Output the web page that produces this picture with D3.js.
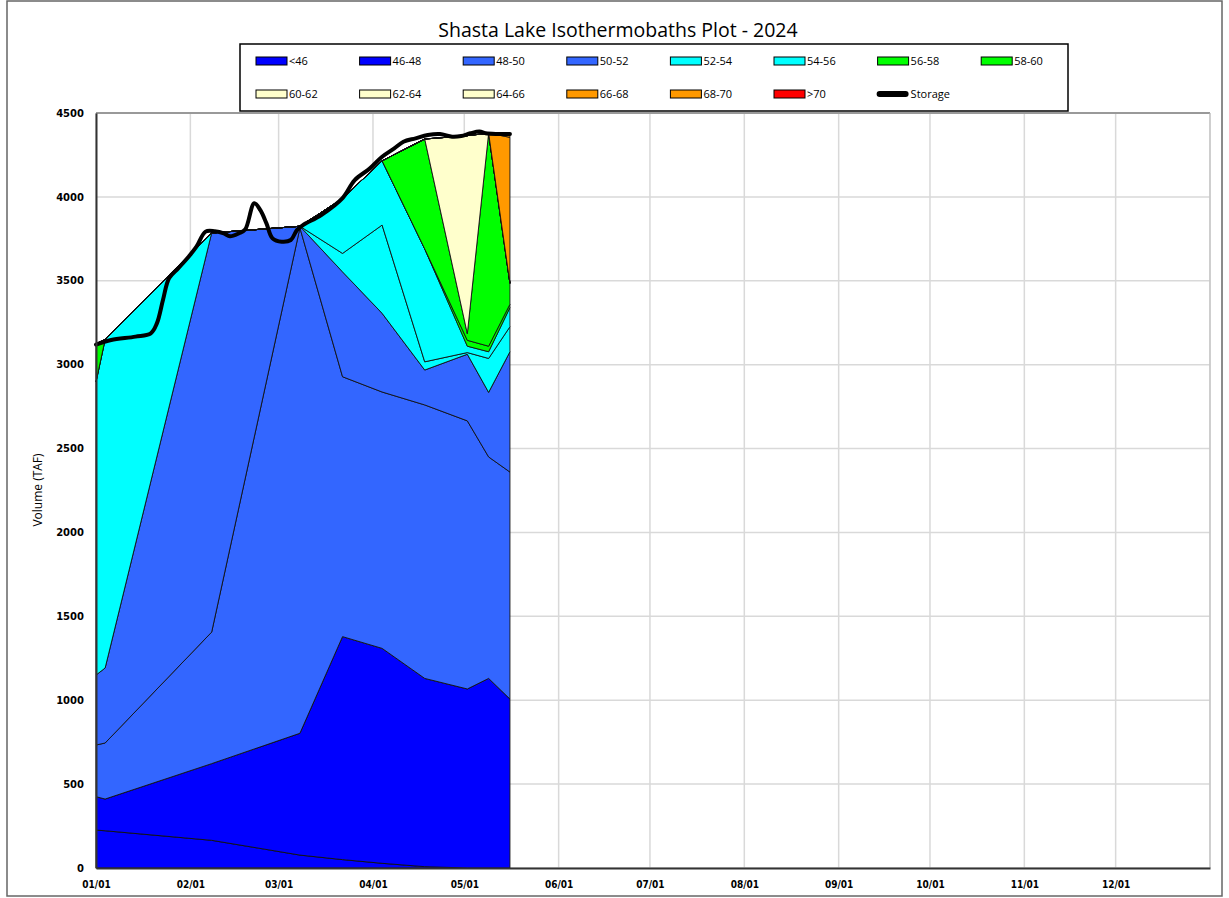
<!DOCTYPE html>
<html>
<head>
<meta charset="utf-8">
<script src="https://cdn.jsdelivr.net/npm/d3@7/dist/d3.min.js"></script>
<style>
  body { margin: 0; background: #fff; }
  svg { display: block; }
</style>
</head>
<body>
<svg id="chart" width="1229" height="898"></svg>
<script>
// profile dates (temperature profiles)
const profileDates = ["2024-01-01", "2024-01-04", "2024-02-08", "2024-03-08", "2024-03-22",
                      "2024-04-04", "2024-04-18", "2024-05-02", "2024-05-09", "2024-05-16"];

// volume (TAF) in each temperature band, per profile date
const band_lt46  = [226, 222, 165, 77, 50, 28, 8, 0, 0, 0];
const band_46_48 = [199, 189, 457, 726, 1329, 1281, 1122, 1067, 1130, 1007];
const band_48_50 = [308, 334, 784, 3012, 1549, 1528, 1630, 1598, 1320, 1353];
const band_50_52 = [417, 447, 2379, 10, 625, 469, 208, 397, 385, 717];
const band_52_54 = [1747, 1958, 0, 0, 110, 526, 49, 10, 202, 149];
const band_54_56 = [0, 0, 0, 0, 327, 383, 673, 38, 40, 114];
const band_56_58 = [225, 0, 0, 0, 0, 0, 0, 35, 33, 20];
const band_58_60 = [0, 0, 0, 0, 0, 0, 655, 40, 1270, 125];
const band_60_62 = [0, 0, 0, 0, 0, 0, 0, 1180, 0, 0];
const band_62_64 = [0, 0, 0, 0, 0, 0, 0, 0, 0, 0];
const band_64_66 = [0, 0, 0, 0, 0, 0, 0, 0, 0, 0];
const band_66_68 = [0, 0, 0, 0, 0, 0, 0, 0, 0, 870];
const band_68_70 = [0, 0, 0, 0, 0, 0, 0, 0, 0, 25];
const band_gt70  = [0, 0, 0, 0, 0, 0, 0, 0, 0, 0];

const bandNames = ["<46", "46-48", "48-50", "50-52", "52-54", "54-56", "56-58", "58-60",
                   "60-62", "62-64", "64-66", "66-68", "68-70", ">70"];
const bands = [band_lt46, band_46_48, band_48_50, band_50_52, band_52_54, band_54_56, band_56_58,
               band_58_60, band_60_62, band_62_64, band_64_66, band_66_68, band_68_70, band_gt70];

// reservoir storage (TAF)
const storageDates = ["2024-01-01", "2024-01-06", "2024-01-14", "2024-01-19", "2024-01-21", "2024-01-23",
  "2024-01-25", "2024-01-28", "2024-01-31", "2024-02-03", "2024-02-06", "2024-02-09", "2024-02-12",
  "2024-02-14", "2024-02-17", "2024-02-19", "2024-02-22", "2024-02-24", "2024-02-26", "2024-02-28",
  "2024-03-02", "2024-03-05", "2024-03-07", "2024-03-09", "2024-03-15", "2024-03-22", "2024-03-26",
  "2024-03-31", "2024-04-04", "2024-04-08", "2024-04-11", "2024-04-15", "2024-04-19", "2024-04-23",
  "2024-04-27", "2024-04-30", "2024-05-03", "2024-05-06", "2024-05-08", "2024-05-12", "2024-05-16"];
const storageValues = [3120, 3147, 3167, 3187, 3246, 3385, 3515, 3574, 3634, 3703, 3793, 3795, 3783,
  3765, 3783, 3805, 3962, 3921, 3842, 3753, 3733, 3743, 3802, 3832, 3892, 3993, 4100, 4170, 4239,
  4289, 4329, 4349, 4369, 4375, 4359, 4363, 4379, 4389, 4379, 4375, 4375];

const yTicks = [0, 500, 1000, 1500, 2000, 2500, 3000, 3500, 4000, 4500];

const colors = ["#0000ff", "#0000ff", "#3366ff", "#3366ff", "#00ffff", "#00ffff", "#00ff00", "#00ff00",
                "#ffffcc", "#ffffcc", "#ffffcc", "#ff9900", "#ff9900", "#ff0000"];

const parse = d3.timeParse("%Y-%m-%d");
const svg = d3.select("#chart");
const plotLeft = 96, plotRight = 1210, plotTop = 113, plotBottom = 868;

const x = d3.scaleTime()
  .domain([parse("2024-01-01"), parse("2025-01-01")])
  .range([plotLeft, plotRight]);
const y = d3.scaleLinear().domain([0, 4500]).range([plotBottom, plotTop]);

// outer frame
svg.append("rect")
  .attr("x", 7).attr("y", 1).attr("width", 1215).attr("height", 895)
  .attr("fill", "#fff").attr("stroke", "#666").attr("stroke-width", 1.5);

svg.append("text")
  .attr("x", 618).attr("y", 37)
  .attr("text-anchor", "middle")
  .style("font-family", "'Open Sans', 'Noto Sans', sans-serif")
  .style("font-size", "19.5px")
  .text("Shasta Lake Isothermobaths Plot - 2024");

// gridlines
const grid = svg.append("g");
grid.selectAll(".hg").data(yTicks).enter().append("line")
  .attr("x1", plotLeft).attr("x2", plotRight)
  .attr("y1", d => y(d)).attr("y2", d => y(d))
  .attr("stroke", "#d9d9d9").attr("stroke-width", 1.5);
const months = d3.timeMonth.range(parse("2024-01-01"), parse("2025-01-02"));
grid.selectAll(".vg").data(months).enter().append("line")
  .attr("x1", d => x(d)).attr("x2", d => x(d))
  .attr("y1", plotTop).attr("y2", plotBottom)
  .attr("stroke", "#d9d9d9").attr("stroke-width", 1.5);

// stacked bands
const table = profileDates.map((d, i) => {
  const row = { date: parse(d) };
  bandNames.forEach((n, j) => row[n] = bands[j][i]);
  return row;
});
const series = d3.stack().keys(bandNames)(table);
const area = d3.area()
  .x(d => x(d.data.date))
  .y0(d => y(d[0]))
  .y1(d => y(d[1]));

svg.append("g").selectAll("path")
  .data(series).enter().append("path")
  .attr("d", area)
  .attr("fill", (d, i) => colors[i])
  .attr("stroke", "#111")
  .attr("stroke-width", 0.9)
  .attr("stroke-linejoin", "round");

// storage line
const storage = storageDates.map((d, i) => ({ date: parse(d), value: storageValues[i] }));
svg.append("path")
  .datum(storage)
  .attr("d", d3.line().curve(d3.curveCatmullRom).x(d => x(d.date)).y(d => y(d.value)))
  .attr("fill", "none")
  .attr("stroke", "#000")
  .attr("stroke-width", 4)
  .attr("stroke-linejoin", "round")
  .attr("stroke-linecap", "round");

// plot frame
svg.append("line").attr("x1", plotLeft).attr("x2", plotRight).attr("y1", plotTop).attr("y2", plotTop)
  .attr("stroke", "#999").attr("stroke-width", 2);
svg.append("line").attr("x1", plotRight).attr("x2", plotRight).attr("y1", plotTop).attr("y2", plotBottom)
  .attr("stroke", "#bbb").attr("stroke-width", 1);

// axes
const yAxis = d3.axisLeft(y).tickValues(yTicks).tickFormat(d3.format("d")).tickSize(0).tickPadding(12);
const gy = svg.append("g").attr("transform", `translate(${plotLeft},0)`).call(yAxis);
gy.select(".domain").attr("stroke", "#333").attr("stroke-width", 2);
gy.selectAll("text")
  .style("font-family", "'DejaVu Sans', sans-serif")
  .style("font-weight", "bold")
  .style("font-size", "10px")
  .attr("fill", "#000");

const xAxis = d3.axisBottom(x).tickValues(months.slice(0, 12))
  .tickFormat(d3.timeFormat("%m/%d")).tickSize(0).tickPadding(13);
const gx = svg.append("g").attr("transform", `translate(0,${plotBottom})`).call(xAxis);
gx.select(".domain").attr("stroke", "#333").attr("stroke-width", 2);
gx.selectAll("text")
  .style("font-family", "'DejaVu Sans Condensed', 'DejaVu Sans', sans-serif")
  .style("font-weight", "bold")
  .style("font-size", "10px")
  .attr("fill", "#000");

svg.append("text")
  .attr("transform", "translate(42,490) rotate(-90)")
  .attr("text-anchor", "middle")
  .style("font-family", "'Open Sans', sans-serif")
  .style("font-size", "12px")
  .text("Volume (TAF)");

// legend
const legend = svg.append("g");
legend.append("rect")
  .attr("x", 240).attr("y", 44).attr("width", 828).attr("height", 67)
  .attr("fill", "#fff").attr("stroke", "#000").attr("stroke-width", 1.5);

const legendItems = bandNames.concat(["Storage"]);
legendItems.forEach((name, i) => {
  const col = i % 8, row = Math.floor(i / 8);
  const lx = 256 + col * 103.6, ly = row === 0 ? 61 : 94;
  const g = legend.append("g").attr("transform", `translate(${lx},${ly})`);
  if (name === "Storage") {
    g.append("line").attr("x1", 2).attr("x2", 28).attr("y1", 0).attr("y2", 0)
      .attr("stroke", "#000").attr("stroke-width", 6).attr("stroke-linecap", "round");
  } else {
    g.append("rect").attr("x", 0).attr("y", -4).attr("width", 31).attr("height", 8)
      .attr("fill", colors[i]).attr("stroke", "#000").attr("stroke-width", 1);
  }
  g.append("text")
    .attr("x", 33).attr("y", 4)
    .style("font-family", "'Open Sans', sans-serif")
    .style("font-size", "11px")
    .text(name);
});
</script>
</body>
</html>
